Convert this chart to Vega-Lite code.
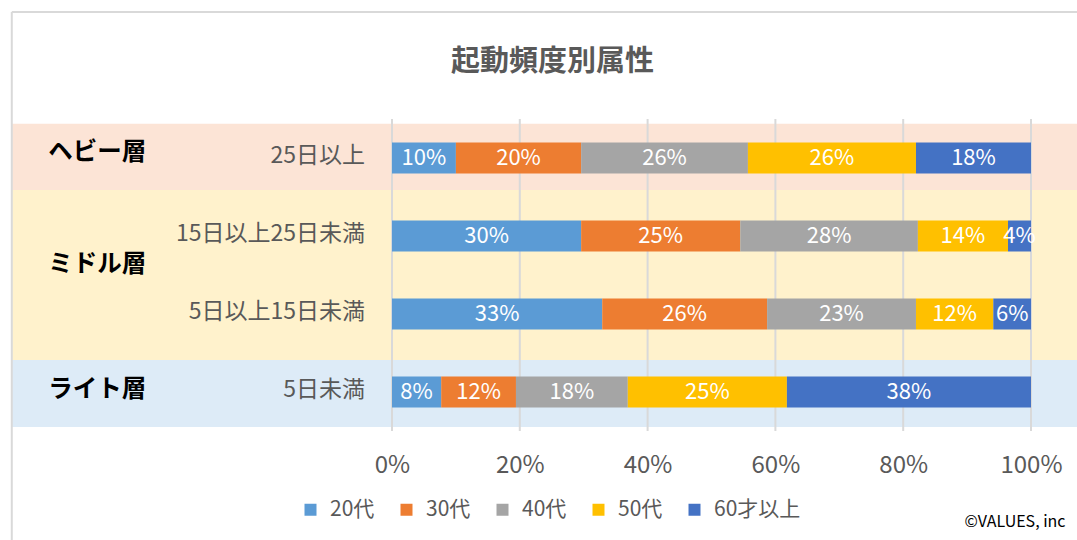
{
  "$schema": "https://vega.github.io/schema/vega-lite/v6.json",
  "autosize": "none",
  "width": 639,
  "height": 312,
  "padding": {"left": 392, "top": 119, "right": 46, "bottom": 109},
  "background": "white",
  "config": {"view": {"stroke": null}, "font": "Noto Sans CJK JP"},
  "title": {
    "text": "起動頻度別属性",
    "anchor": "middle",
    "frame": "group",
    "dx": -159,
    "offset": -66,
    "fontSize": 29,
    "fontWeight": "bold",
    "color": "#595959",
    "font": "Noto Sans CJK JP"
  },
  "datasets": {
    "bands": [
      {"band": "ヘビー層", "y1": 0.06, "y2": 0.91, "fill": "#FCE4D6"},
      {"band": "ミドル層", "y1": 0.91, "y2": 3.09, "fill": "#FFF2CC"},
      {"band": "ライト層", "y1": 3.09, "y2": 3.95, "fill": "#DDEBF7"}
    ],
    "groups": [
      {"name": "ヘビー層", "ly": 0.44},
      {"name": "ミドル層", "ly": 1.87},
      {"name": "ライト層", "ly": 3.47}
    ],
    "cats": [
      {"cat": "25日以上", "row": 0.5},
      {"cat": "15日以上25日未満", "row": 1.5},
      {"cat": "5日以上15日未満", "row": 2.5},
      {"cat": "5日未満", "row": 3.5}
    ],
    "grid": [{"t": 0}, {"t": 20}, {"t": 40}, {"t": 60}, {"t": 80}, {"t": 100}],
    "bars": [
      {"cat": "25日以上", "row": 0.5, "age": "20代", "o": 1, "v": 10.0, "label": "10%"},
      {"cat": "25日以上", "row": 0.5, "age": "30代", "o": 2, "v": 19.6, "label": "20%"},
      {"cat": "25日以上", "row": 0.5, "age": "40代", "o": 3, "v": 26.1, "label": "26%"},
      {"cat": "25日以上", "row": 0.5, "age": "50代", "o": 4, "v": 26.3, "label": "26%"},
      {"cat": "25日以上", "row": 0.5, "age": "60才以上", "o": 5, "v": 18.0, "label": "18%"},
      {"cat": "15日以上25日未満", "row": 1.5, "age": "20代", "o": 1, "v": 29.6, "label": "30%"},
      {"cat": "15日以上25日未満", "row": 1.5, "age": "30代", "o": 2, "v": 24.9, "label": "25%"},
      {"cat": "15日以上25日未満", "row": 1.5, "age": "40代", "o": 3, "v": 27.8, "label": "28%"},
      {"cat": "15日以上25日未満", "row": 1.5, "age": "50代", "o": 4, "v": 14.1, "label": "14%"},
      {"cat": "15日以上25日未満", "row": 1.5, "age": "60才以上", "o": 5, "v": 3.6, "label": "4%"},
      {"cat": "5日以上15日未満", "row": 2.5, "age": "20代", "o": 1, "v": 32.9, "label": "33%"},
      {"cat": "5日以上15日未満", "row": 2.5, "age": "30代", "o": 2, "v": 25.8, "label": "26%"},
      {"cat": "5日以上15日未満", "row": 2.5, "age": "40代", "o": 3, "v": 23.3, "label": "23%"},
      {"cat": "5日以上15日未満", "row": 2.5, "age": "50代", "o": 4, "v": 12.1, "label": "12%"},
      {"cat": "5日以上15日未満", "row": 2.5, "age": "60才以上", "o": 5, "v": 5.9, "label": "6%"},
      {"cat": "5日未満", "row": 3.5, "age": "20代", "o": 1, "v": 7.7, "label": "8%"},
      {"cat": "5日未満", "row": 3.5, "age": "30代", "o": 2, "v": 11.7, "label": "12%"},
      {"cat": "5日未満", "row": 3.5, "age": "40代", "o": 3, "v": 17.5, "label": "18%"},
      {"cat": "5日未満", "row": 3.5, "age": "50代", "o": 4, "v": 24.9, "label": "25%"},
      {"cat": "5日未満", "row": 3.5, "age": "60才以上", "o": 5, "v": 38.2, "label": "38%"}
    ]
  },
  "layer": [
    {
      "data": {"name": "bands"},
      "mark": {"type": "rect"},
      "encoding": {
        "x": {"datum": -59.5, "type": "quantitative", "scale": {"domain": [0, 100], "nice": false, "padding": 0},
              "axis": {"values": [0, 20, 40, 60, 80, 100], "labelExpr": "datum.value + '%'", "domain": false, "ticks": false, "grid": false, "labelFlush": false, "labelFontSize": 24, "labelColor": "#595959", "labelPadding": 22, "title": null, "labelFont": "Noto Sans CJK JP"}},
        "x2": {"datum": 107.2},
        "y": {"field": "y1", "type": "quantitative", "scale": {"domain": [0, 4], "reverse": true, "nice": false, "zero": false, "padding": 0}, "axis": null},
        "y2": {"field": "y2"},
        "fill": {"field": "fill", "type": "nominal", "scale": null}
      }
    },
    {
      "data": {"name": "grid"},
      "mark": {"type": "rule", "color": "#D9D9D9", "strokeWidth": 2},
      "encoding": {
        "x": {"field": "t", "type": "quantitative"},
        "y": {"datum": 0, "type": "quantitative"},
        "y2": {"datum": 4}
      }
    },
    {
      "data": {"values": [{"k": 1}]},
      "mark": {"type": "rule", "color": "#D9D9D9", "strokeWidth": 2},
      "encoding": {
        "x": {"datum": -59.5, "type": "quantitative"},
        "y": {"datum": -1.372, "type": "quantitative"},
        "y2": {"datum": 5.5}
      }
    },
    {
      "data": {"values": [{"k": 1}]},
      "mark": {"type": "rule", "color": "#D9D9D9", "strokeWidth": 2},
      "encoding": {
        "x": {"datum": -59.5, "type": "quantitative"},
        "x2": {"datum": 108},
        "y": {"datum": -1.372, "type": "quantitative"}
      }
    },
    {
      "data": {"name": "bars"},
      "mark": {"type": "bar", "orient": "horizontal", "height": 31},
      "encoding": {
        "x": {"field": "v", "type": "quantitative", "stack": "zero"},
        "y": {"field": "row", "type": "quantitative"},
        "order": {"field": "o", "type": "quantitative"},
        "color": {
          "field": "age", "type": "nominal",
          "scale": {"domain": ["20代", "30代", "40代", "50代", "60才以上"], "range": ["#5B9BD5", "#ED7D31", "#A5A5A5", "#FFC000", "#4472C4"]},
          "legend": {
            "orient": "none", "legendX": -92, "legendY": 380, "direction": "horizontal", "columns": 5,
            "title": null, "symbolType": "square", "symbolSize": 144, "symbolStrokeWidth": 0,
            "labelFontSize": 21, "labelColor": "#595959", "labelFont": "Noto Sans CJK JP",
            "columnPadding": 21, "labelOffset": 9
          }
        }
      }
    },
    {
      "data": {"name": "bars"},
      "mark": {"type": "text", "color": "white", "fontSize": 22, "baseline": "middle", "align": "center"},
      "encoding": {
        "x": {"field": "v", "type": "quantitative", "stack": "zero", "bandPosition": 0.5},
        "y": {"field": "row", "type": "quantitative"},
        "order": {"field": "o", "type": "quantitative"},
        "detail": {"field": "age"},
        "text": {"field": "label"}
      }
    },
    {
      "data": {"name": "cats"},
      "mark": {"type": "text", "align": "right", "baseline": "middle", "dx": -27, "dy": -2, "fontSize": 23, "color": "#595959"},
      "encoding": {
        "x": {"datum": 0, "type": "quantitative"},
        "y": {"field": "row", "type": "quantitative"},
        "text": {"field": "cat"}
      }
    },
    {
      "data": {"name": "groups"},
      "mark": {"type": "text", "align": "left", "baseline": "middle", "fontSize": 24.5, "fontWeight": "bold", "color": "black"},
      "encoding": {
        "x": {"datum": -53.8, "type": "quantitative"},
        "y": {"field": "ly", "type": "quantitative"},
        "text": {"field": "name"}
      }
    },
    {
      "data": {"values": [{"txt": "©VALUES, inc"}]},
      "mark": {"type": "text", "align": "right", "baseline": "middle", "fontSize": 16, "color": "black"},
      "encoding": {
        "x": {"datum": 105.4, "type": "quantitative"},
        "y": {"datum": 5.17, "type": "quantitative"},
        "text": {"field": "txt"}
      }
    }
  ]
}
